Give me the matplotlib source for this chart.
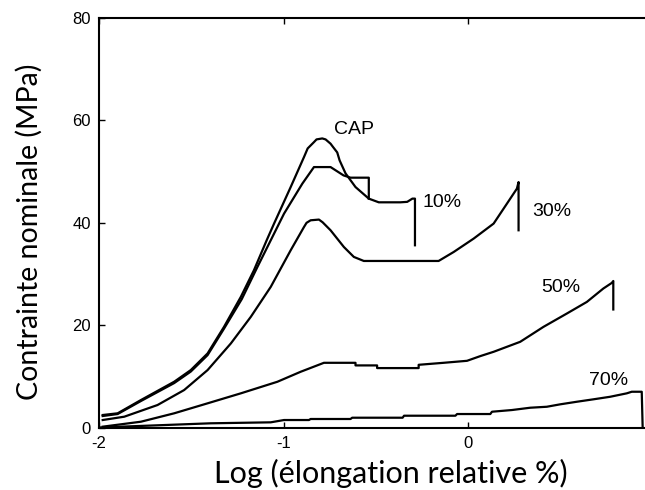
import numpy as np
import matplotlib
matplotlib.use("Agg")
import matplotlib.pyplot as plt

plt.rcParams['axes.unicode_minus'] = False

# CAP curve
cap_x = [-1.980, -1.899, -1.773, -1.593, -1.503, -1.412, -1.323, -1.232, -1.161, -1.092,
         -1.052, -0.962, -0.890, -0.870, -0.836, -0.822, -0.791, -0.773, -0.746, -0.735,
         -0.710, -0.697, -0.665, -0.611, -0.539, -0.485, -0.368, -0.331, -0.303, -0.289,
         -0.289]
cap_y = [2.44, 2.77, 5.36, 8.93, 11.21, 14.46, 19.65, 25.50, 30.70, 36.55,
         39.81, 46.94, 52.79, 54.48, 55.71, 56.24, 56.43, 56.24, 55.40, 54.87,
         53.70, 52.14, 49.61, 46.94, 44.68, 43.96, 43.96, 44.05, 44.68, 44.68,
         35.57]

# 10 %
p10_x = [-1.980, -1.899, -1.773, -1.593, -1.503, -1.412, -1.323, -1.227, -1.142, -1.070,
         -0.998, -0.899, -0.836, -0.746, -0.676, -0.638, -0.539, -0.539]
p10_y = [2.24, 2.63, 5.17, 8.67, 10.92, 14.13, 19.30, 25.05, 31.35, 36.55,
         41.75, 47.60, 50.84, 50.84, 49.22, 48.77, 48.77, 44.68]

# 30 %
p30_x = [-1.980, -1.863, -1.683, -1.539, -1.412, -1.286, -1.178, -1.070, -0.962, -0.890,
         -0.876, -0.854, -0.809, -0.789, -0.746, -0.674, -0.620, -0.566, -0.161, -0.079,
         0.029, 0.137, 0.209, 0.263, 0.272, 0.272]
p30_y = [1.46, 2.11, 4.39, 7.31, 11.21, 16.41, 21.60, 27.45, 34.60, 39.14,
         39.96, 40.45, 40.59, 40.06, 38.50, 35.24, 33.30, 32.51, 32.51, 34.27,
         36.88, 39.81, 43.70, 46.63, 47.91, 38.50]

# 50 %
p50_x = [-1.980, -1.773, -1.593, -1.412, -1.232, -1.034, -0.908, -0.782, -0.611, -0.611,
         -0.494, -0.494, -0.269, -0.269, -0.134, -0.007, 0.065, 0.137, 0.281, 0.407,
         0.534, 0.642, 0.731, 0.777, 0.785, 0.785]
p50_y = [0.16, 1.13, 2.77, 4.72, 6.67, 8.93, 10.88, 12.63, 12.63, 12.12,
         12.12, 11.60, 11.60, 12.24, 12.63, 13.02, 13.94, 14.78, 16.73, 19.65,
         22.26, 24.52, 27.13, 28.23, 28.60, 23.04]

# 70 %
p70_x = [-2.0, -1.395, -1.070, -0.998, -0.863, -0.854, -0.638, -0.629, -0.356, -0.348,
         -0.070, -0.061, 0.119, 0.128, 0.236, 0.335, 0.425, 0.497, 0.588, 0.677,
         0.768, 0.858, 0.885, 0.939, 0.944]
p70_y = [0.0, 0.82, 1.01, 1.46, 1.46, 1.66, 1.66, 1.91, 1.91, 2.30,
         2.30, 2.63, 2.63, 3.08, 3.41, 3.86, 4.05, 4.52, 5.03, 5.50,
         6.00, 6.67, 6.98, 6.98, 0.0]

labels = ['CAP', '10%', '30%', '50%', '70%']
label_x = [-0.62, -0.14, 0.45, 0.50, 0.76]
label_y = [58.2, 43.9, 42.1, 27.3, 9.1]

xticks = [-2, -1, 0]
yticks = [0, 20, 40, 60, 80]

fig = plt.figure(figsize=(6.45, 4.9), dpi=100)
ax = fig.add_axes([99 / 645, 62.5 / 490, 554 / 645, 409.8 / 490])

for xs, ys in [(cap_x, cap_y), (p10_x, p10_y), (p30_x, p30_y), (p50_x, p50_y), (p70_x, p70_y)]:
    ax.plot(xs, ys, color='black', linewidth=1.6)

for t, x, y in zip(labels, label_x, label_y):
    ax.text(x, y, t, ha='center', va='center', fontsize=14, family='Liberation Sans')

ax.set_xlim(-2, 1)
ax.set_ylim(0, 80)
ax.set_xticks(xticks)
ax.set_yticks(yticks)
ax.tick_params(direction='in', length=4, width=1, top=True, right=True,
               labelsize=12, pad=6)
for lab in ax.get_xticklabels() + ax.get_yticklabels():
    lab.set_family('Liberation Sans')
for s in ax.spines.values():
    s.set_linewidth(1.5)

fig.text(391 / 645, 7 / 490, 'Log (élongation relative %)', ha='center', va='baseline',
         fontsize=22, family='Lato')
fig.text(29 / 645, 1 - 232 / 490, 'Contrainte nominale (MPa)', ha='center', va='center',
         rotation=90, fontsize=20.5, family='Lato')

fig.savefig('out.png', dpi=100)
